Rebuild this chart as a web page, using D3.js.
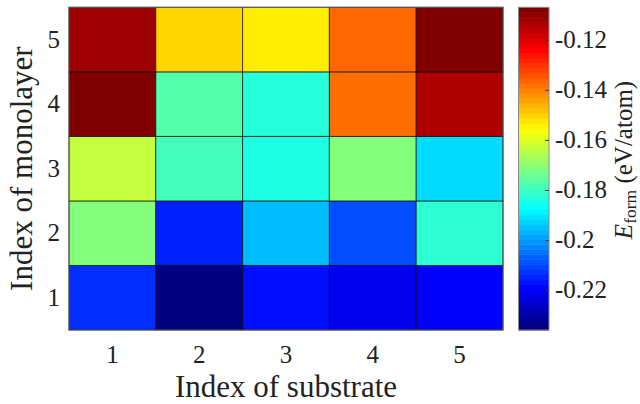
<!DOCTYPE html>
<html>
<head>
<meta charset="utf-8">
<script src="https://cdn.jsdelivr.net/npm/d3@7"></script>
<style>
  body { margin: 0; background: #fff; }
  svg text { font-family: 'Liberation Serif', 'DejaVu Serif', serif; fill: #222; }
</style>
</head>
<body>
<div id="chart"></div>
<script>
let substrates = [1, 2, 3, 4, 5]
let monolayers = [1, 2, 3, 4, 5]

// formation energy (eV/atom), one array per monolayer index, columns = substrate 1..5
let eformMono1 = [-0.214, -0.236, -0.218, -0.222, -0.220]
let eformMono2 = [-0.171, -0.216, -0.196, -0.210, -0.182]
let eformMono3 = [-0.163, -0.179, -0.184, -0.171, -0.192]
let eformMono4 = [-0.107, -0.177, -0.183, -0.137, -0.113]
let eformMono5 = [-0.111, -0.150, -0.153, -0.136, -0.107]
let eformRows = [eformMono1, eformMono2, eformMono3, eformMono4, eformMono5]

let cbarTicks = [-0.22, -0.2, -0.18, -0.16, -0.14, -0.12]
let cbarLevels = 64

let width = 640,
    height = 404,
    plot = { left: 69, right: 503, top: 7.3, bottom: 330 },
    cbar = { left: 518.5, right: 549 }

let cells = []
eformRows.forEach((row, i) => {
    row.forEach((v, j) => {
        cells.push({ mono: monolayers[i], sub: substrates[j], value: v })
    })
})

// matlab style jet
let jet = t => {
    let c = v => Math.round(255 * Math.max(0, Math.min(1, v)))
    return `rgb(${c(1.5 - Math.abs(4 * t - 3))},${c(1.5 - Math.abs(4 * t - 2))},${c(1.5 - Math.abs(4 * t - 1))})`
}

let extent = d3.extent(cells, d => d.value)
let color = d3.scaleSequential(jet).domain(extent)

let svg = d3.select('#chart').append('svg')
    .attr('width', width)
    .attr('height', height)

let x = d3.scaleBand()
    .domain(substrates)
    .range([plot.left, plot.right])

let y = d3.scaleBand()
    .domain(monolayers)
    .range([plot.bottom, plot.top])

svg.append('g').attr('class', 'cells')
    .selectAll('rect')
    .data(cells)
    .enter().append('rect')
    .attr('x', d => x(d.sub))
    .attr('y', d => y(d.mono))
    .attr('width', x.bandwidth())
    .attr('height', y.bandwidth())
    .attr('fill', d => color(d.value))
    .attr('stroke', 'rgba(0,0,0,0.65)')
    .attr('stroke-width', 1)

svg.append('rect')
    .attr('x', plot.left)
    .attr('y', plot.top)
    .attr('width', plot.right - plot.left)
    .attr('height', plot.bottom - plot.top)
    .attr('fill', 'none')
    .attr('stroke', '#5a5a5a')
    .attr('stroke-width', 1)

let xAxis = g => g
    .attr('transform', `translate(0,${plot.bottom})`)
    .call(d3.axisBottom(x).tickSize(0).tickPadding(15))
    .call(g => g.select('.domain').remove())
    .call(g => g.selectAll('text').attr('font-size', 25).attr('font-family', null))

let yAxis = g => g
    .attr('transform', `translate(${plot.left},0)`)
    .call(d3.axisLeft(y).tickSize(0).tickPadding(9))
    .call(g => g.select('.domain').remove())
    .call(g => g.selectAll('text').attr('font-size', 25).attr('font-family', null))

svg.append('g').call(xAxis)
svg.append('g').call(yAxis)

svg.append('text')
    .attr('x', (plot.left + plot.right) / 2)
    .attr('y', 397)
    .attr('text-anchor', 'middle')
    .attr('font-size', 31)
    .text('Index of substrate')

svg.append('text')
    .attr('transform', `translate(32,${(plot.top + plot.bottom) / 2}) rotate(-90)`)
    .attr('text-anchor', 'middle')
    .attr('font-size', 31)
    .text('Index of monolayer')

// colorbar
let yc = d3.scaleLinear()
    .domain(extent)
    .range([plot.bottom, plot.top])

let step = (extent[1] - extent[0]) / cbarLevels
svg.append('g').attr('class', 'cbar')
    .selectAll('rect')
    .data(d3.range(cbarLevels))
    .enter().append('rect')
    .attr('x', cbar.left)
    .attr('width', cbar.right - cbar.left)
    .attr('y', i => yc(extent[0] + (i + 1) * step))
    .attr('height', i => yc(extent[0] + i * step) - yc(extent[0] + (i + 1) * step) + 0.5)
    .attr('fill', i => jet(i / (cbarLevels - 1)))

svg.append('rect')
    .attr('x', cbar.left)
    .attr('y', plot.top)
    .attr('width', cbar.right - cbar.left)
    .attr('height', plot.bottom - plot.top)
    .attr('fill', 'none')
    .attr('stroke', '#8a8a8a')
    .attr('stroke-width', 1)

let cAxis = g => g
    .attr('transform', `translate(${cbar.right},0)`)
    .call(d3.axisRight(yc).tickValues(cbarTicks).tickFormat(d => String(d)).tickSizeInner(-4).tickSizeOuter(0).tickPadding(6))
    .call(g => g.select('.domain').remove())
    .call(g => g.selectAll('line').attr('stroke', '#333'))
    .call(g => g.selectAll('text').attr('font-size', 25).attr('font-family', null))

svg.append('g').call(cAxis)

let cLabel = svg.append('text')
    .attr('transform', `translate(632,160) rotate(-90)`)
    .attr('text-anchor', 'middle')
    .attr('font-size', 25)
cLabel.append('tspan').attr('font-style', 'italic').text('E')
cLabel.append('tspan').attr('font-size', 17.5).attr('dy', 4).text('form')
cLabel.append('tspan').attr('dy', -4).text(' (eV/atom)')
</script>
</body>
</html>
